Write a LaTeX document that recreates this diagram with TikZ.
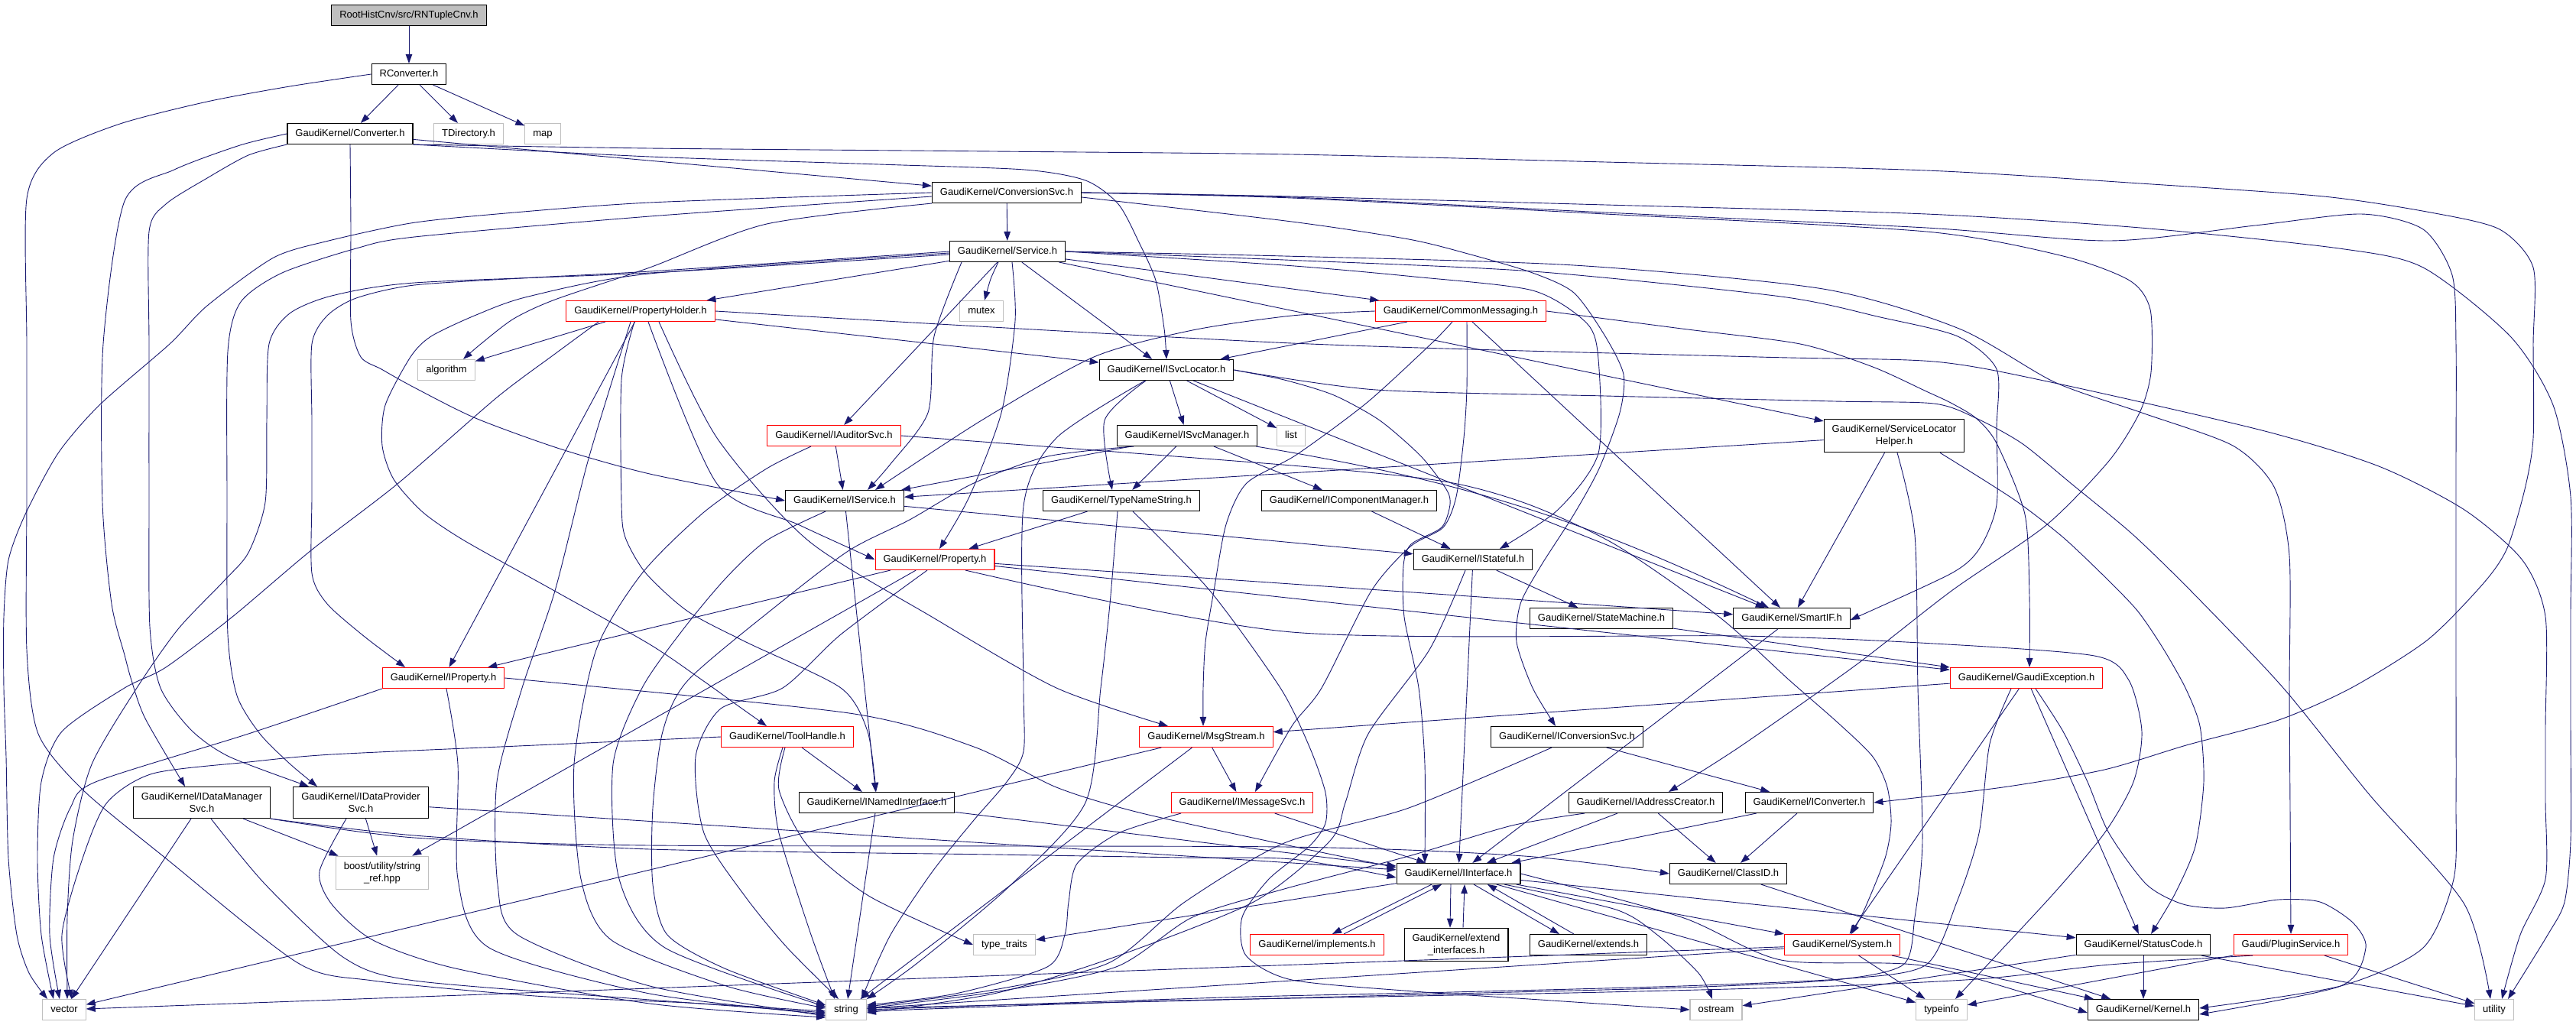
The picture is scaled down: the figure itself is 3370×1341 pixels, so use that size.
\documentclass[tikz,border=0pt]{standalone}
\usepackage{fontspec}
\newfontfamily\doxyfont{Liberation Sans}
\usetikzlibrary{arrows.meta}
\definecolor{edgeblue}{RGB}{25,25,112}
\definecolor{sysgray}{RGB}{191,191,191}

\begin{document}
\begin{tikzpicture}[x=1pt,y=-1pt,
  box/.style={draw=black,fill=white,line width=1.1pt,font={\doxyfont\fontsize{13}{15.5}\selectfont},
    inner xsep=10.5pt,inner ysep=8pt,align=center},
  hdr/.style={box,inner ysep=7pt,minimum height=27pt,text height=9.5pt,text depth=3pt},
  hdrred/.style={hdr,draw=red},
  stdinc/.style={hdr,draw=sysgray},
  stdinctwo/.style={box,draw=sysgray},
  rootinc/.style={hdr,fill=sysgray},
  dep/.style={draw=edgeblue,line width=0.9pt,-{Triangle[length=12pt,width=8.5pt]}},
  route/.style={dep,smooth,tension=0.45}]
\fill[white] (0,0) rectangle (3370,1341);
\useasboundingbox (0,0) rectangle (3370,1341);

% header files
\node[rootinc] (root) at (535,20) {RootHistCnv/src/RNTupleCnv.h};
\node[hdr] (rconv) at (535,97) {RConverter.h};
\node[hdr] (conv) at (458,175) {GaudiKernel/Converter.h};
\node[stdinc] (tdir) at (613,175) {TDirectory.h};
\node[stdinc] (map) at (710,175) {map};
\node[hdr] (csvc) at (1317,252) {GaudiKernel/ConversionSvc.h};
\node[hdr] (svc) at (1318,329) {GaudiKernel/Service.h};
\node[hdrred] (propholder) at (838,407) {GaudiKernel/PropertyHolder.h};
\node[stdinc] (mutex) at (1284,407) {mutex};
\node[hdrred] (cmsg) at (1911,407) {GaudiKernel/CommonMessaging.h};
\node[stdinc] (algorithm) at (584,484) {algorithm};
\node[hdr] (isvcloc) at (1526,484) {GaudiKernel/ISvcLocator.h};
\node[hdrred] (iaudsvc) at (1091,570) {GaudiKernel/IAuditorSvc.h};
\node[hdr] (isvcmgr) at (1553,570) {GaudiKernel/ISvcManager.h};
\node[stdinc] (list) at (1689,570) {list};
\node[box] (slhelper) at (2478,570) {GaudiKernel/ServiceLocator\\Helper.h};
\node[hdr] (iservice) at (1105,655) {GaudiKernel/IService.h};
\node[hdr] (typename) at (1467,655) {GaudiKernel/TypeNameString.h};
\node[hdr] (icompmgr) at (1765,655) {GaudiKernel/IComponentManager.h};
\node[hdrred] (property) at (1223,732) {GaudiKernel/Property.h};
\node[hdr] (istateful) at (1927,732) {GaudiKernel/IStateful.h};
\node[hdr] (statemach) at (2095,809) {GaudiKernel/StateMachine.h};
\node[hdr] (smartif) at (2344,809) {GaudiKernel/SmartIF.h};
\node[hdrred] (iproperty) at (580,887) {GaudiKernel/IProperty.h};
\node[hdrred] (gexcept) at (2651,887) {GaudiKernel/GaudiException.h};
\node[hdrred] (toolhandle) at (1030,964) {GaudiKernel/ToolHandle.h};
\node[hdrred] (msgstream) at (1578,964) {GaudiKernel/MsgStream.h};
\node[hdr] (iconvsvc) at (2050,964) {GaudiKernel/IConversionSvc.h};
\node[box] (idms) at (264,1050) {GaudiKernel/IDataManager\\Svc.h};
\node[box] (idps) at (472,1050) {GaudiKernel/IDataProvider\\Svc.h};
\node[hdr] (inamed) at (1147,1050) {GaudiKernel/INamedInterface.h};
\node[hdrred] (imsgsvc) at (1625,1050) {GaudiKernel/IMessageSvc.h};
\node[hdr] (iaddr) at (2153,1050) {GaudiKernel/IAddressCreator.h};
\node[hdr] (iconv) at (2367,1050) {GaudiKernel/IConverter.h};
\node[stdinctwo] (boostref) at (500,1142) {boost/utility/string\\\_ref.hpp};
\node[hdr] (iinterface) at (1908,1143) {GaudiKernel/IInterface.h};
\node[hdr] (classid) at (2261,1143) {GaudiKernel/ClassID.h};
\node[hdrred] (implements) at (1723,1236) {GaudiKernel/implements.h};
\node[box] (extendif) at (1905,1236) {GaudiKernel/extend\\\_interfaces.h};
\node[hdr] (extends) at (2078,1236) {GaudiKernel/extends.h};
\node[stdinc] (typetraits) at (1314,1236) {type\_traits};
\node[hdrred] (system) at (2410,1236) {GaudiKernel/System.h};
\node[hdr] (statuscode) at (2804,1236) {GaudiKernel/StatusCode.h};
\node[hdrred] (pluginsvc) at (2997,1236) {Gaudi/PluginService.h};
\node[stdinc] (vector) at (84,1321) {vector};
\node[stdinc] (string) at (1107,1321) {string};
\node[stdinc] (ostream) at (2245,1321) {ostream};
\node[stdinc] (typeinfo) at (2540,1321) {typeinfo};
\node[hdr] (kernel) at (2804,1321) {GaudiKernel/Kernel.h};
\node[stdinc] (utility) at (3263,1321) {utility};

% top of the graph
\draw[dep] (root) -- (rconv);
\draw[dep] (rconv) -- (conv);
\draw[dep] (rconv) -- (tdir);
\draw[dep] (rconv) -- (map);
\draw[route] plot coordinates {(rconv.west) (379,113) (271,133) (157,162) (70,200) (35,260) (35,450) (35,650) (35,850) (50,960) (108,1033) (217,1123) (390,1260) (488,1283) (700,1303) (900,1312) ([yshift=-2pt]string.west)};

% Converter.h
\draw[dep] (conv) -- (csvc);
\draw[route] plot coordinates {(conv.south east) (850,205) (1150,215) (1340,222) (1420,236) (1463,267) (1490,317) (1512,367) (1523,430) (isvcloc.north)};
\draw[route] plot coordinates {(conv.south east) (850,194) (1300,198) (1690,202) (2100,212) (2520,223) (2800,240) (3040,257) (3180,278) (3270,300) (3314,350) (3314,450) (3314,573) (3303,640) (3280,717) (3249,763) (3176,837) (3076,900) (2981,942) (2860,975) (2753,1007) (2620,1030) (iconv.east)};
\draw[route] plot coordinates {(conv.south) (459,300) (459,420) (472,467) (499,483) (542,507) (622,547) (732,587) (850,620) (iservice.west)};
\draw[route] plot coordinates {(conv.west) (314,190) (228,222) (163,263) (135,450) (134,657) (146,790) (163,857) (172,890) (190,940) ([xshift=-22pt]idms.north)};
\draw[route] plot coordinates {(conv.south west) (325,203) (271,233) (217,267) (195,303) (195,450) (195,650) (196,820) (210,900) (250,955) (300,990) ([xshift=-68pt]idps.north)};

% ConversionSvc.h
\draw[dep] (csvc) -- (svc);
\draw[route] plot coordinates {(csvc.south west) (1003,293) (850,350) (726,392) (672,417) (629,450) ([xshift=22pt]algorithm.north)};
\draw[route] plot coordinates {(csvc.west) (850,265) (650,280) (537,292) (430,315) (358,337) (271,400) (222,450) (130,530) (76,593) (33,673) (11,733) (5,807) (5,900) (8,990) (11,1123) (22,1223) (38,1273) ([xshift=-22pt]vector.north)};
\draw[route] plot coordinates {([yshift=-5pt]csvc.west) (850,283) (542,310) (466,325) (369,357) (315,395) (298,460) (297,650) (298,830) (310,910) (340,960) (380,1000) ([xshift=-57pt]idps.north)};
\draw[route] plot coordinates {([yshift=-6pt]csvc.east) (1690,290) (1843,313) (1924,333) (2005,357) (2059,383) (2100,440) (2124,490) (2119,540) (2092,613) (2059,673) (2016,740) (1989,790) (1984,840) (2005,900) ([xshift=-15pt]iconvsvc.north)};
\draw[route] plot coordinates {(csvc.east) (1690,259) (2100,280) (2520,303) (2699,335) (2786,367) (2813,405) (2814,487) (2799,540) (2759,603) (2677,687) (2553,773) (2428,870) (2276,977) ([xshift=30pt]iaddr.north)};
\draw[route] plot coordinates {(csvc.east) (1690,257) (2100,268) (2520,280) (2800,298) (3060,325) (3170,350) (3284,440) (3340,530) (3363,650) (3363,800) (3363,950) (3363,1100) (3355,1180) (3333,1223) ([xshift=18pt]utility.north)};
\draw[route] plot coordinates {(csvc.east) (1690,258) (2100,278) (2520,298) (2760,315) (2950,295) (3089,280) (3170,300) (3208,360) (3213,450) (3213,600) (3213,750) (3213,900) (3213,1050) (3210,1150) (3170,1240) (3062,1290) ([yshift=2pt]kernel.east)};

% Service.h
\draw[dep] (svc) -- (propholder);
\draw[route] plot coordinates {([xshift=-12pt]svc.south) (1296,365) ([xshift=4pt]mutex.north)};
\draw[dep] (svc) -- (cmsg);
\draw[dep] (svc) -- (isvcloc);
\draw[dep] (svc) -- (iaudsvc);
\draw[route] plot coordinates {([xshift=6pt]svc.south) (1328,420) (1310,540) (1268,650) ([xshift=6pt]property.north)};
\draw[dep] (svc) -- (slhelper);
\draw[route] plot coordinates {([xshift=-60pt]svc.south) (1222,440) (1214,540) (1165,607) ([xshift=30pt]iservice.north)};
\draw[route] plot coordinates {(svc.east) (1680,347) (1850,362) (2005,380) (2076,423) (2091,470) (2091,593) (2038,667) ([xshift=35pt]istateful.north)};
\draw[route] plot coordinates {(svc.east) (1680,340) (2005,355) (2330,388) (2460,415) (2561,440) (2612,483) (2612,560) (2612,660) (2590,717) (2553,750) ([yshift=-2pt]smartif.east)};
\draw[route] plot coordinates {(svc.east) (1680,335) (2059,347) (2385,378) (2563,430) (2688,500) (2802,540) (2921,583) (2975,637) (2995,727) (2995,900) (2996,1060) (pluginsvc.north)};
\draw[route] plot coordinates {([yshift=-2pt]svc.west) (850,358) (691,388) (623,412) (564,440) (537,467) (504,530) (500,583) (515,627) (553,670) (607,707) (720,770) (850,843) (919,890) (965,923) ([xshift=-27pt]toolhandle.north)};
\draw[route] plot coordinates {(svc.west) (850,355) (700,363) (542,373) (466,390) (428,413) (408,450) (408,550) (408,650) (408,750) (428,790) (477,833) ([xshift=-50pt]iproperty.north)};
\draw[route] plot coordinates {([yshift=-4pt]svc.west) (850,357) (542,370) (434,387) (379,410) (352,450) (349,550) (347,657) (325,723) (293,760) (233,823) (179,900) (120,1000) (95,1100) (88,1200) ([xshift=4pt]vector.north)};

% PropertyHolder.h
\draw[dep] (propholder) -- (algorithm);
\draw[dep] (propholder) -- (isvcloc);
\draw[dep] (propholder) -- (iproperty);
\draw[route] plot coordinates {([xshift=10pt]propholder.south) (938,633) (1046,687) (property.west)};
\draw[route] plot coordinates {([xshift=24pt]propholder.south) (938,573) (1057,707) (1219,807) (1382,900) ([xshift=-50pt]msgstream.north)};
\draw[route] plot coordinates {([xshift=-8pt]propholder.south) (813,497) (813,657) (818,703) (845,750) (900,800) (976,840) (1100,900) (1135,957) ([xshift=-1pt]inamed.north)};
\draw[route] plot coordinates {([xshift=-13pt]propholder.south) (770,600) (726,773) (683,900) (650,1023) (651,1157) (677,1223) (850,1290) ([yshift=-8pt]string.west)};
\draw[route] plot coordinates {([xshift=-55pt]propholder.south) (726,463) (650,520) (520,633) (407,720) (304,807) (217,873) (163,900) (81,957) (54,1023) (49,1123) (54,1223) ([xshift=-14pt]vector.north)};
\draw[route] plot coordinates {(propholder.east) (1690,449) (2300,467) (2530,473) (2683,500) (2959,563) (3112,610) (3224,667) (3300,733) (3330,807) (3330,950) (3330,1050) (3330,1150) (3297,1223) ([xshift=10pt]utility.north)};

% CommonMessaging.h
\draw[dep] (cmsg) -- (isvcloc);
\draw[dep] (cmsg) -- (smartif);
\draw[route] plot coordinates {(cmsg.west) (1690,413) (1560,432) (1431,467) (1284,550) ([xshift=40pt]iservice.north)};
\draw[route] plot coordinates {([xshift=-11pt]cmsg.south) (1872,450) (1788,527) (1696,595) (1631,632) (1604,686) (1588,773) (1577,840) (1574,900) ([xshift=-4pt]msgstream.north)};
\draw[route] plot coordinates {([xshift=8pt]cmsg.south) (1919,507) (1915,573) (1905,650) (1888,690) (1845,715) (1794,773) (1729,900) (1690,950) ([xshift=17pt]imsgsvc.north)};
\draw[route] plot coordinates {(cmsg.east) (2200,430) (2355,450) (2450,480) (2520,512) (2552,527) (2585,547) (2612,580) (2649,673) (2655,780) ([xshift=4pt]gexcept.north)};

% ISvcLocator.h
\draw[dep] (isvcloc) -- (isvcmgr);
\draw[dep] (isvcloc) -- (list);
\draw[dep] (isvcloc) -- (smartif);
\draw[route] plot coordinates {([xshift=-27pt]isvcloc.south) (1445,550) ([xshift=-12pt]typename.north)};
\draw[route] plot coordinates {([xshift=-28pt]isvcloc.south) (1382,573) (1339,662) (1339,900) (1339,983) (1317,1023) (1274,1073) (1220,1140) (1165,1223) ([xshift=20pt]string.north)};
\draw[route] plot coordinates {(isvcloc.east) (1680,497) (1745,517) (1805,550) (1859,597) (1892,640) (1897,660) (1886,690) (1846,712) (1836,740) (1837,807) (1856,900) (1864,1000) ([xshift=-44pt]iinterface.north)};
\draw[route] plot coordinates {(isvcloc.east) (1800,510) (2100,518) (2400,525) (2530,528) (2585,547) (2645,580) (2710,633) (2791,700) (2873,780) (2987,900) (3100,1040) (3224,1183) ([xshift=-5pt]utility.north)};

% IAuditorSvc.h, ISvcManager.h, IComponentManager.h, TypeNameString.h
\draw[dep] (iaudsvc) -- (iservice);
\draw[route] plot coordinates {([xshift=-30pt]iaudsvc.south) (1003,613) (921,670) (840,750) (780,850) (751,1000) (760,1150) (800,1230) (950,1290) ([yshift=2pt]string.west)};
\draw[route] plot coordinates {(iaudsvc.east) (1690,609) (1890,630) (2000,660) (2114,713) (2249,807) (2341,890) (2406,947) (2450,990) (2469,1030) (2474,1077) (2466,1123) (2439,1190) ([xshift=12pt]system.north)};
\draw[dep] (isvcmgr) -- (iservice);
\draw[dep] (isvcmgr) -- (typename);
\draw[dep] (isvcmgr) -- (icompmgr);
\draw[dep] (isvcmgr) to[bend left=8] (smartif);
\draw[route] plot coordinates {([xshift=-70pt]isvcmgr.south) (1371,597) (1274,632) (1190,680) (1111,720) (1019,790) (900,890) (867,957) (854,1057) (854,1157) (873,1223) (948,1267) ([yshift=6pt]string.west)};
\draw[dep] (icompmgr) -- (istateful);
\draw[dep] (typename) -- (property);
\draw[route] plot coordinates {([xshift=-5pt]typename.south) (1452,790) (1440,900) (1420,1050) (1320,1160) (1200,1260) (string.north east)};
\draw[route] plot coordinates {([xshift=15pt]typename.south) (1583,773) (1675,900) (1713,977) (1734,1037) (1734,1077) (1713,1107) (1660,1150) (1625,1200) (1630,1250) (1690,1282) (1850,1297) (2000,1307) (ostream.west)};

% IService.h, ServiceLocatorHelper.h, IStateful.h
\draw[dep] (iservice) -- (inamed);
\draw[dep] (iservice) -- (istateful);
\draw[route] plot coordinates {([xshift=-25pt]iservice.south) (1003,707) (949,757) (894,823) (840,900) (802,1000) (810,1150) (870,1240) ([yshift=4pt]string.west)};
\draw[dep] (slhelper) -- (iservice);
\draw[dep] (slhelper) -- (smartif);
\draw[route] plot coordinates {([xshift=60pt]slhelper.south) (2634,653) (2699,703) (2759,760) (2797,800) (2829,847) (2859,900) (2878,950) (2883,1023) (2872,1107) (2845,1170) ([xshift=10pt]statuscode.north)};
\draw[route] plot coordinates {([xshift=4pt]slhelper.south) (2505,700) (2509,900) (2515,1100) (2505,1200) (2490,1262) (2400,1282) (2200,1292) (1900,1300) (1600,1308) ([yshift=2pt]string.east)};
\draw[dep] (istateful) -- (statemach);
\draw[dep] (istateful) -- (iinterface);
\draw[route] plot coordinates {([xshift=-10pt]istateful.south) (1870,850) (1790,960) (1760,1050) (1740,1100) (1640,1180) (1450,1255) (1300,1300) ([yshift=-4pt]string.east)};
\draw[dep] (statemach) -- (gexcept);
\draw[dep] (smartif) -- (iinterface);

% Property.h, IProperty.h
\draw[dep] (property) -- (iproperty);
\draw[dep] (property) -- (boostref);
\draw[dep] (property) -- (smartif);
\draw[dep] (property) -- (gexcept);
\draw[route] plot coordinates {([xshift=-10pt]property.south) (1100,830) (1024,900) (943,927) (910,990) (921,1090) (975,1173) (1030,1240) ([xshift=-10pt]string.north)};
\draw[route] plot coordinates {([xshift=40pt]property.south) (1690,827) (2276,832) (2530,842) (2740,858) (2785,890) (2802,957) (2791,1023) (2753,1090) (2683,1173) ([xshift=18pt]typeinfo.north)};
\draw[route] plot coordinates {(iproperty.south west) (325,960) (125,1023) (92,1057) (70,1123) (65,1223) ([xshift=-6pt]vector.north)};
\draw[route] plot coordinates {([xshift=4pt]iproperty.south) (599,1000) (599,1150) (640,1240) (850,1300) ([yshift=-6pt]string.west)};
\draw[route] plot coordinates {(iproperty.east) (1111,933) (1274,977) (1382,1030) (1490,1063) (1690,1107) ([yshift=8pt]iinterface.west)};

% GaudiException.h
\draw[dep] (gexcept) -- (msgstream);
\draw[dep] (gexcept) -- (system);
\draw[dep] (gexcept) -- (statuscode);
\draw[route] plot coordinates {([xshift=12pt]gexcept.south) (2699,957) (2731,1023) (2759,1090) (2808,1157) (2856,1183) (2911,1188) (2981,1177) (3035,1180) (3078,1207) (3095,1240) (3062,1290) ([yshift=-6pt]kernel.east)};
\draw[route] plot coordinates {([xshift=-20pt]gexcept.south) (2603,973) (2589,1090) (2560,1180) (2520,1262) (2420,1280) (2200,1290) (1900,1298) (1600,1305) (string.east)};

% ToolHandle.h, MsgStream.h, IConversionSvc.h
\draw[dep] (toolhandle) -- (inamed);
\draw[route] plot coordinates {([xshift=-6pt]toolhandle.south) (1013,1023) (1019,1090) (1060,1220) ([xshift=-15pt]string.north)};
\draw[route] plot coordinates {([xshift=-3pt]toolhandle.south) (1019,1033) (1057,1107) (1138,1173) (typetraits.west)};
\draw[route] plot coordinates {(toolhandle.west) (700,975) (434,987) (325,997) (200,1012) (140,1050) (108,1123) (81,1223) ([xshift=10pt]vector.north)};
\draw[dep] (msgstream) -- (imsgsvc);
\draw[dep] (msgstream) -- (string);
\draw[dep] (msgstream) -- (vector);
\draw[dep] (iconvsvc) -- (iconv);
\draw[route] plot coordinates {([xshift=-20pt]iconvsvc.south) (1843,1057) (1680,1103) (1550,1180) (1450,1260) (1300,1295) ([yshift=4pt]string.east)};

% IDataManagerSvc.h, IDataProviderSvc.h
\draw[dep] (idms) -- (boostref);
\draw[dep] (idms) -- (vector);
\draw[route] plot coordinates {([xshift=12pt]idms.south) (347,1157) (450,1253) (542,1283) (850,1308) ([yshift=-4pt]string.west)};
\draw[route] plot coordinates {(idms.south east) (542,1093) (850,1111) (1300,1118) (1550,1122) (1690,1124) ([yshift=-5pt]iinterface.west)};
\draw[route] plot coordinates {(idms.south east) (542,1096) (850,1106) (1680,1108) (1994,1120) (classid.west)};
\draw[dep] (idps) -- (boostref);
\draw[dep] (idps) -- (iinterface);
\draw[route] plot coordinates {([xshift=-19pt]idps.south) (418,1140) (434,1183) (488,1230) (596,1267) (850,1313) ([yshift=-10pt]string.west)};

% interfaces
\draw[dep] (inamed) -- (iinterface);
\draw[dep] (inamed) -- (string);
\draw[dep] (imsgsvc) -- (iinterface);
\draw[route] plot coordinates {([xshift=-80pt]imsgsvc.south) (1463,1090) (1409,1130) (1398,1180) (1393,1223) (1370,1265) (1250,1300) ([yshift=6pt]string.east)};
\draw[dep] (iaddr) -- (iinterface);
\draw[dep] (iaddr) -- (classid);
\draw[route] plot coordinates {([xshift=-80pt]iaddr.south) (1978,1080) (1843,1120) (1680,1163) (1560,1200) (1460,1265) (1300,1298) ([yshift=2pt]string.east)};
\draw[dep] (iconv) -- (iinterface);
\draw[dep] (iconv) -- (classid);
\draw[dep] (classid) -- (kernel);

% IInterface.h
\draw[dep] ([xshift=-35pt]iinterface.south) -- ([xshift=20pt]implements.north);
\draw[dep] ([xshift=35pt]implements.north) -- ([xshift=-22pt]iinterface.south);
\draw[dep] ([xshift=-10pt]iinterface.south) -- ([xshift=-8pt]extendif.north);
\draw[dep] ([xshift=9pt]extendif.north) -- ([xshift=8pt]iinterface.south);
\draw[dep] ([xshift=20pt]iinterface.south) -- ([xshift=-38pt]extends.north);
\draw[dep] ([xshift=-19pt]extends.north) -- ([xshift=38pt]iinterface.south);
\draw[dep] (iinterface) -- (system);
\draw[dep] (iinterface) -- (typeinfo);
\draw[dep] (iinterface) -- (statuscode);
\draw[dep] (iinterface) -- (typetraits);
\draw[route] plot coordinates {([xshift=60pt]iinterface.south) (2114,1190) (2168,1223) (2222,1273) ([xshift=-5pt]ostream.north)};
\draw[route] plot coordinates {(iinterface.east) (2200,1200) (2330,1256) (2520,1264) ([yshift=-4pt]kernel.west)};

% bottom row
\draw[dep] (system) -- (string);
\draw[dep] (system) -- (vector);
\draw[dep] (system) -- (typeinfo);
\draw[dep] (system) -- (kernel);
\draw[dep] (statuscode) -- (ostream);
\draw[dep] (statuscode) -- (kernel);
\draw[dep] (statuscode) -- (utility);
\draw[dep] (pluginsvc) -- (typeinfo);
\draw[dep] (pluginsvc) -- (utility);
\draw[route] plot coordinates {([xshift=-50pt]pluginsvc.south) (2760,1262) (2600,1280) (2400,1290) (2100,1298) (1800,1304) (1500,1310) ([yshift=-2pt]string.east)};
\end{tikzpicture}
\end{document}
